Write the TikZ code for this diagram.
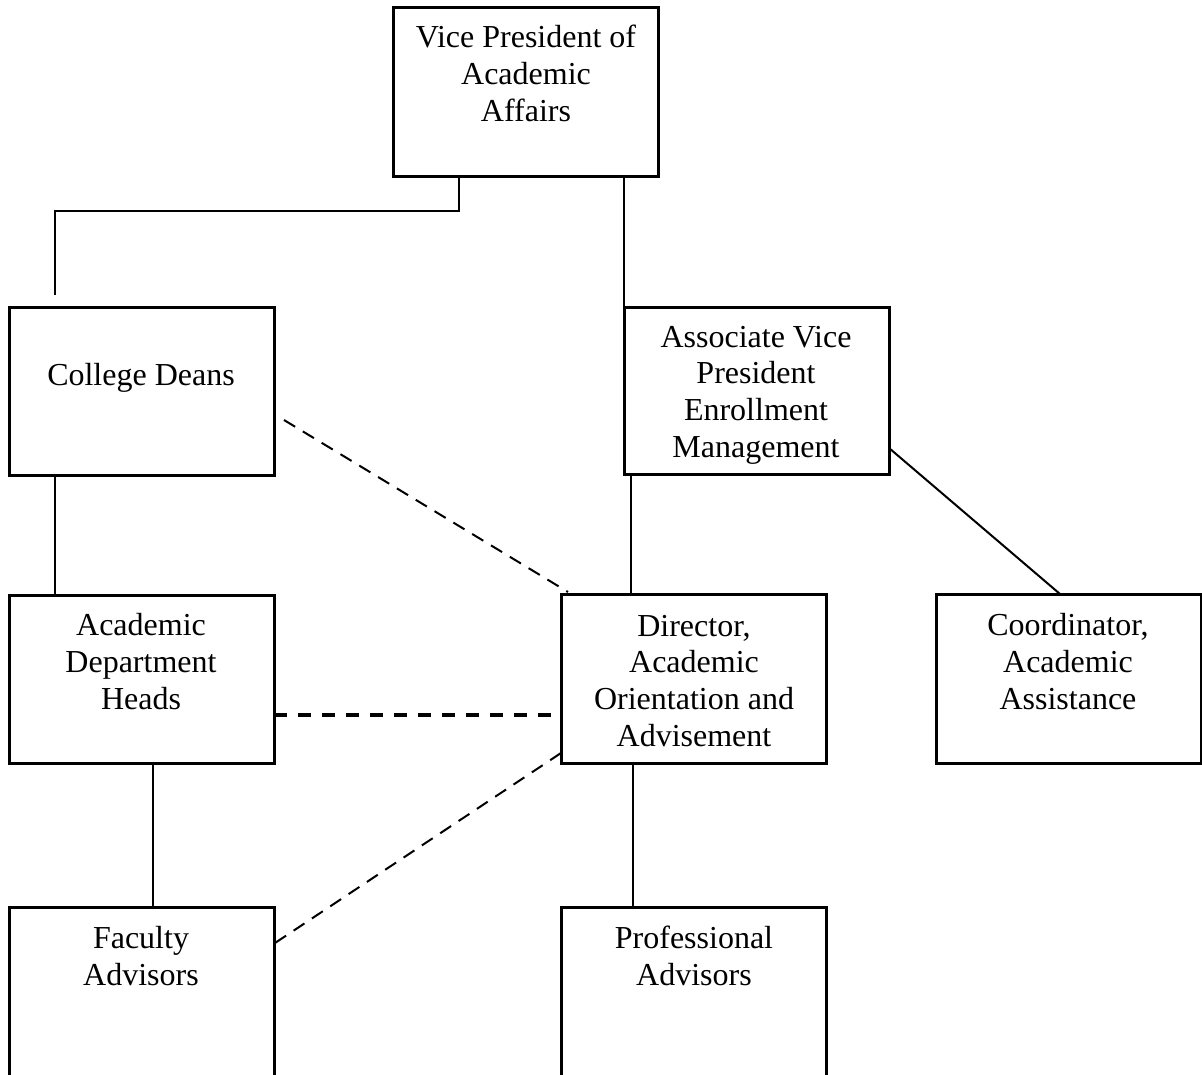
\documentclass[tikz,border=0pt]{standalone}
\usepackage{fontspec}
\setmainfont{Liberation Serif}
\begin{document}
\begin{tikzpicture}[x=1pt,y=-1pt,
  box/.style={draw, line width=3pt, inner sep=0pt, outer sep=0pt, anchor=north west, minimum width=265pt, minimum height=168pt},
  lbl/.style={align=center, inner sep=0pt, anchor=base, font=\fontsize{32}{36.6}\selectfont},
  conn/.style={line width=2pt},
  thindash/.style={line width=2pt, dash pattern=on 13pt off 9pt},
  thickdash/.style={line width=3.2pt, dash pattern=on 13pt off 11pt}]
\useasboundingbox (0,0) rectangle (1202,1074);
\clip (0,0) rectangle (1202,1074);
% boxes
\node[box, minimum height=169pt] (vp) at (393,7) {};
\node[box] (cd) at (9,307) {};
\node[box, minimum height=167pt] (avp) at (624,307) {};
\node[box] (adh) at (9,595) {};
\node[box, minimum height=169pt] (dir) at (561,594) {};
\node[box, minimum height=169pt] (coord) at (936,594) {};
\node[box, minimum height=180pt] (fac) at (9,907) {};
\node[box, minimum height=180pt] (prof) at (561,907) {};
% labels (anchored at the baseline of the last line)
\node[lbl] (vpt) at (526,121) {Vice President of\\Academic\\Affairs};
\node[lbl] (cdt) at (141,385) {College Deans};
\node[lbl] (avpt) at (756,457) {Associate Vice\\President\\Enrollment\\Management};
\node[lbl] (adht) at (141,709) {Academic\\Department\\Heads};
\node[lbl] (dirt) at (694,746) {Director,\\Academic\\Orientation and\\Advisement};
\node[lbl] (coordt) at (1068,709) {Coordinator,\\Academic\\Assistance};
\node[lbl] (fact) at (141,985) {Faculty\\Advisors};
\node[lbl] (proft) at (694,985) {Professional\\Advisors};
% connectors
\coordinate (cdtop) at (55,295);
\draw[conn] ([xshift=66pt]vp.south west) -- ++(0,35) -| (cdtop);
\draw[conn] ([xshift=231pt]vp.south west) -- (avp.north west);
\draw[conn] ([yshift=26pt]avp.south east) -- ([xshift=124pt]coord.north west);
\draw[conn] ([xshift=7pt]avp.south west) -- ([xshift=7pt]avp.south west |- dir.north);
\draw[conn] ([xshift=46pt]cd.south west) -- ([xshift=46pt]cd.south west |- adh.north);
\draw[conn] ([xshift=144pt]adh.south west) -- ([xshift=144pt]adh.south west |- fac.north);
\draw[conn] ([xshift=72pt]dir.south west) -- ([xshift=72pt]dir.south west |- prof.north);
\draw[thindash] ([xshift=10pt,yshift=55pt]cd.south east) -- ([xshift=7pt,yshift=2pt]dir.north west);
\draw[thickdash] ([yshift=48pt]adh.south east) -- ([yshift=48pt]adh.south east -| dir.west);
\draw[thindash] ([yshift=10pt]dir.south west) -- ([xshift=1pt,yshift=-36pt]fac.north east);
\end{tikzpicture}
\end{document}
